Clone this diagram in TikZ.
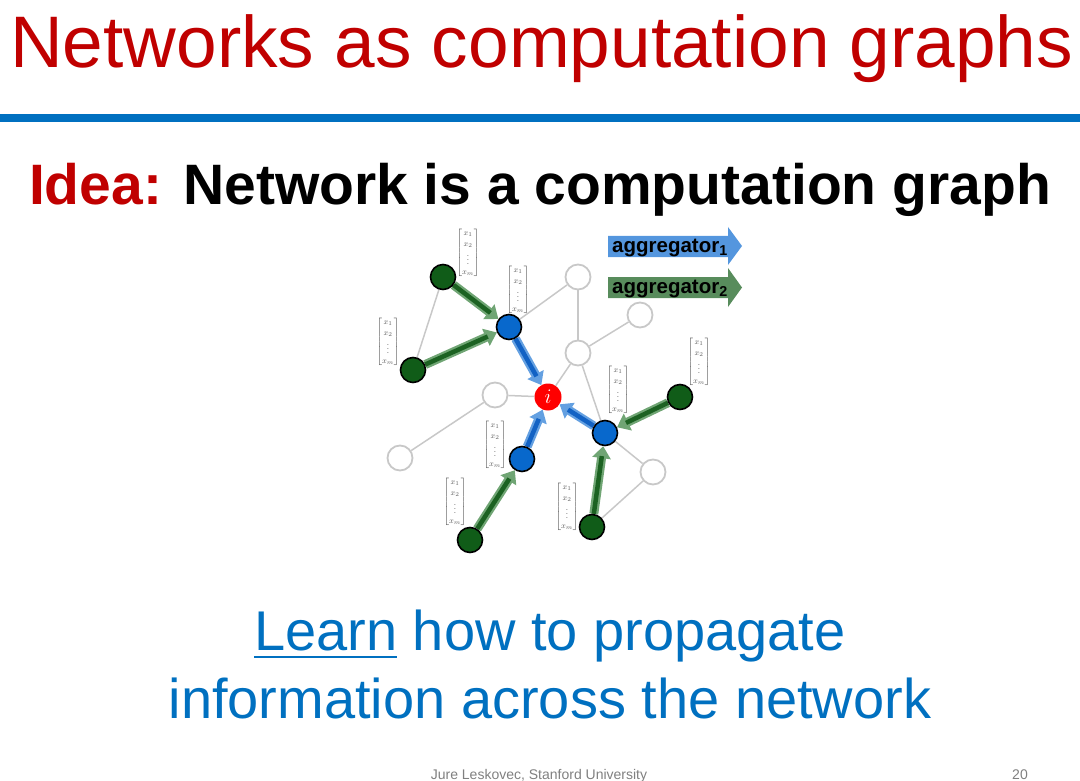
\documentclass[tikz,border=0pt]{standalone}
\usepackage{amsmath}
\usepackage{fontspec}
\setmainfont{Liberation Sans}
\usepackage{xcolor}
\usetikzlibrary{arrows.meta,backgrounds}
\definecolor{titlered}{RGB}{192,0,0}
\definecolor{slideblue}{RGB}{0,112,192}
\definecolor{nodegreen}{RGB}{16,92,24}
\definecolor{nodeblue}{RGB}{8,104,204}
\definecolor{edgegray}{RGB}{200,200,200}
\definecolor{vecgray}{RGB}{95,95,95}
\definecolor{aggblue}{RGB}{84,150,222}
\definecolor{agggreen}{RGB}{88,140,92}
\definecolor{flowgreen}{RGB}{28,98,34}
\definecolor{halogreen}{RGB}{112,165,116}
\definecolor{flowblue}{RGB}{18,98,196}
\definecolor{haloblue}{RGB}{100,160,225}
\newcommand{\xvec}{$\begin{bmatrix}x_1\\x_2\\\vdots\\x_m\end{bmatrix}$}
\newcommand{\underword}[1]{\setbox0\hbox{#1}\rlap{\rule[-8pt]{\wd0}{2pt}}\box0\relax}

\begin{document}
\begin{tikzpicture}[x=1pt,y=-1pt,
    gnode/.style={circle, draw=black, line width=1.6pt, fill=nodegreen, minimum size=25pt, inner sep=0pt},
    bnode/.style={circle, draw=black, line width=1.6pt, fill=nodeblue, minimum size=25pt, inner sep=0pt},
    enode/.style={circle, draw=edgegray, line width=1.8pt, fill=white, minimum size=25pt, inner sep=0pt},
    rnode/.style={circle, fill=red, minimum size=27pt, inner sep=0pt, text=white, font=\fontsize{22}{22}\selectfont},
    vec/.style={text=vecgray, font=\fontsize{8}{10.5}\selectfont, inner sep=0pt},
    edge/.style={draw=edgegray, line width=1.5pt},
    slide/.style={inner sep=0pt, anchor=base}]
  \useasboundingbox (0,0) rectangle (1080,781);

  \node[slide, anchor=base west, text=titlered, font=\fontsize{73}{80}\selectfont] (title) at (10,68) {Networks as computation graphs};
  \fill[slideblue] (0,114) rectangle (1080,122);
  \node[slide, font=\bfseries\fontsize{57}{60}\selectfont] (idea) at (540,205) {\textcolor{titlered}{Idea:} Network is a computation graph};

  \fill[aggblue] (608,236) -- (728,236) -- (728,227) -- (742,246) -- (728,265) -- (728,257) -- (608,257) -- cycle;
  \fill[agggreen] (608,277) -- (728,277) -- (728,268) -- (742,287.5) -- (728,307) -- (728,298) -- (608,298) -- cycle;
  \node[slide, anchor=base west, font=\bfseries\fontsize{20.5}{22}\selectfont] (agg1) at (612,252) {aggregator\textsubscript{1}};
  \node[slide, anchor=base west, font=\bfseries\fontsize{20.5}{22}\selectfont] (agg2) at (612,293) {aggregator\textsubscript{2}};

  \node[gnode] (g1) at (443,277) {};
  \node[bnode] (b1) at (509,327) {};
  \node[gnode] (g2) at (413,370) {};
  \node[rnode] (ni) at (548,397) {$i$};
  \node[enode] (e1) at (578,277) {};
  \node[enode] (e2) at (640,315) {};
  \node[enode] (e3) at (578,353) {};
  \node[enode] (e4) at (495,395) {};
  \node[enode] (e5) at (400,458) {};
  \node[bnode] (b2) at (522,459) {};
  \node[gnode] (g3) at (470,540) {};
  \node[bnode] (b3) at (605,433) {};
  \node[gnode] (g4) at (680,397) {};
  \node[enode] (e6) at (653,472) {};
  \node[gnode] (g5) at (592,527) {};

  \node[vec] (v1) at (468,253) {\xvec};
  \node[vec] (v2) at (518,290) {\xvec};
  \node[vec] (v3) at (388,342) {\xvec};
  \node[vec] (v4) at (495,445) {\xvec};
  \node[vec] (v5) at (455,502) {\xvec};
  \node[vec] (v6) at (618,390) {\xvec};
  \node[vec] (v7) at (699,362) {\xvec};
  \node[vec] (v8) at (567,507) {\xvec};

  \begin{scope}[on background layer]
    \foreach \a/\b in {g1/g2,b1/e1,e1/e3,e3/e2,e3/ni,e3/b3,e4/ni,e4/e5,b3/e6,e6/g5}
      \draw[edge] (\a) -- (\b);
    \foreach \a/\b in {g1/b1,g2/b1,g3/b2,g4/b3,g5/b3} {
      \draw[line width=9pt, halogreen, -{Triangle[length=12pt,width=18pt]}] (\a) -- (\b);
      \draw[line width=4.5pt, flowgreen, shorten >=10pt] (\a) -- (\b);
    }
    \foreach \a in {b1,b2,b3} {
      \draw[line width=9pt, haloblue, -{Triangle[length=12pt,width=18pt]}] (\a) -- (ni);
      \draw[line width=4.5pt, flowblue, shorten >=10pt] (\a) -- (ni);
    }
  \end{scope}

  \node[slide, text=slideblue, font=\fontsize{56}{60}\selectfont] (learn) at (550,650) {\underword{Learn} how to propagate};
  \node[slide, text=slideblue, font=\fontsize{56}{60}\selectfont] (info) at (550,718) {information across the network};

  \node[slide, text=gray, font=\fontsize{14}{16}\selectfont] (foot) at (539,779) {Jure Leskovec, Stanford University};
  \node[slide, text=gray, font=\fontsize{14}{16}\selectfont] (page) at (1020,779) {20};
\end{tikzpicture}
\end{document}
